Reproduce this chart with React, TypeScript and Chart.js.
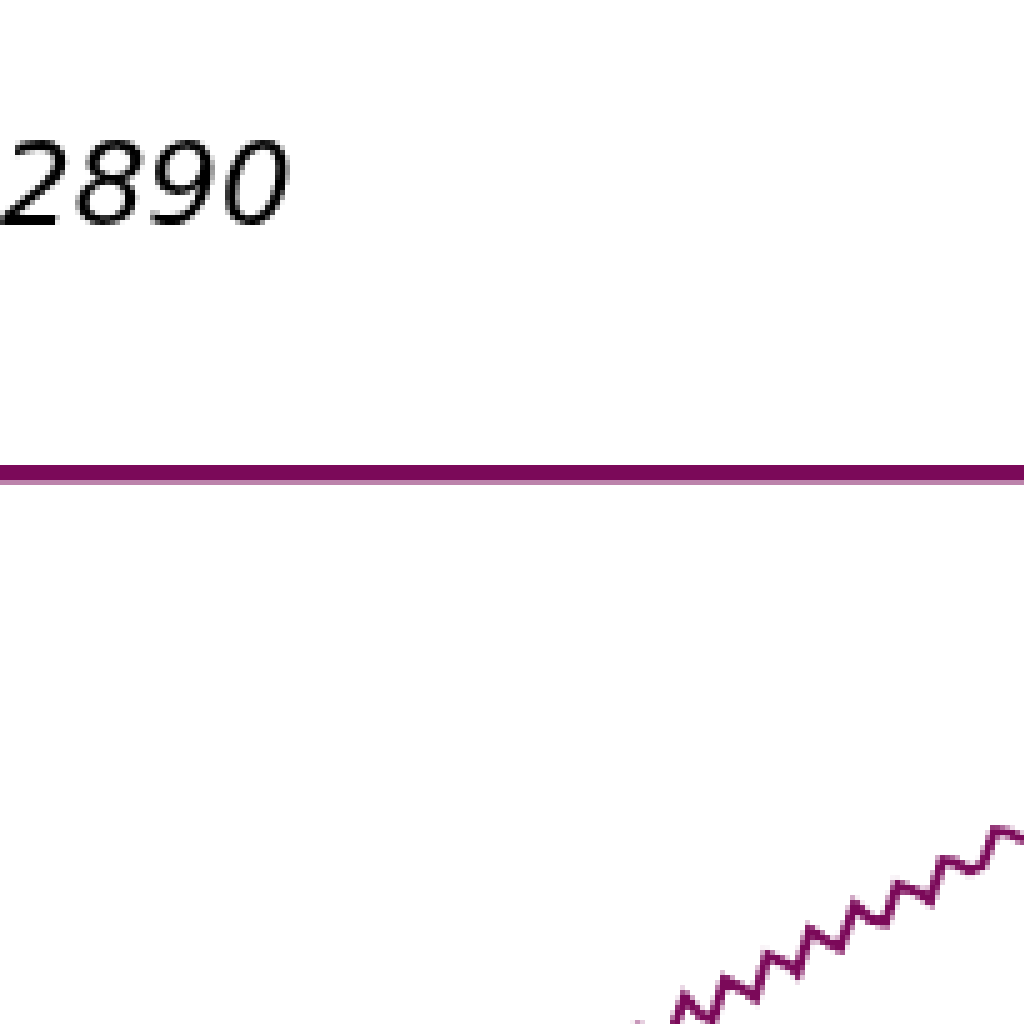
import { useEffect, useRef } from "react";
import { Chart, registerables } from "chart.js";

Chart.register(...registerables);

const referenceLabel = "2890";
const referenceValue = 2890;
const referenceSpan = [-10, 420];

const xIndex = [
  240, 255, 268, 274, 280, 285, 290, 298, 302, 307, 316, 319, 324, 332, 336,
  342, 348, 354, 359, 368, 372, 377, 382, 388, 393, 398, 404, 410, 416,
];
const seriesValues = [
  561, 690, 650, 809, 740, 720, 878, 839, 809, 977, 938, 908, 1076, 1027, 1007,
  1175, 1122, 1106, 1254, 1223, 1195, 1353, 1344, 1314, 1334, 1472, 1462, 1433,
  1413,
];

const lineColor = "#7b0959";

export default function App() {
  const ref = useRef<HTMLCanvasElement>(null);

  useEffect(() => {
    const canvas = ref.current;
    if (!canvas) return;
    const chart = new Chart(canvas, {
      type: "line",
      data: {
        datasets: [
          {
            label: "Reference",
            data: referenceSpan.map((x) => ({ x, y: referenceValue })),
            borderColor: lineColor,
            backgroundColor: lineColor,
            borderWidth: 3.4,
            pointRadius: 0,
            tension: 0,
          },
          {
            label: "Series",
            data: xIndex.map((x, i) => ({ x, y: seriesValues[i] })),
            borderColor: lineColor,
            backgroundColor: lineColor,
            borderWidth: 2,
            pointRadius: 0,
            tension: 0,
          },
        ],
      },
      options: {
        animation: false,
        responsive: false,
        devicePixelRatio: 1,
        layout: { padding: 0 },
        scales: {
          x: { type: "linear", min: 0, max: 410, display: false },
          y: { type: "linear", min: 700, max: 3726, display: false },
        },
        plugins: {
          legend: { display: false },
          tooltip: { enabled: false },
          title: {
            display: true,
            text: referenceLabel,
            align: "start",
            color: "#000000",
            font: {
              family: '"DejaVu Sans"',
              style: "italic",
              weight: "normal",
              size: 23,
              lineHeight: 1.2,
            },
            padding: { top: 25, bottom: 0 },
          },
        },
      },
    });
    return () => chart.destroy();
  }, []);

  return (
    <canvas
      ref={ref}
      width={205}
      height={205}
      style={{
        position: "fixed",
        left: 0,
        top: 0,
        width: 1025,
        height: 1025,
        imageRendering: "pixelated",
      }}
    />
  );
}
